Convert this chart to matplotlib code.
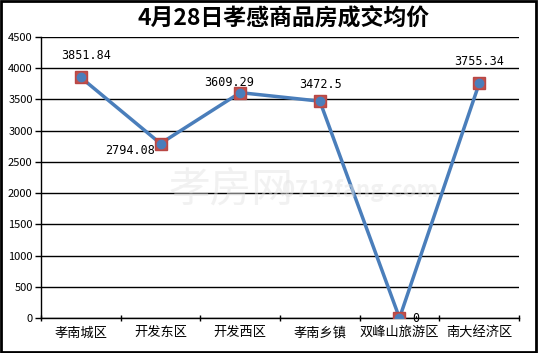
import matplotlib
matplotlib.use('Agg')
import matplotlib.pyplot as plt
from matplotlib.patches import Rectangle

plt.rcParams['font.family'] = ['Noto Sans CJK SC', 'DejaVu Sans']

# data
areas = ['孝南城区', '开发东区', '开发西区', '孝南乡镇', '双峰山旅游区', '南大经济区']
prices = [3851.84, 2794.08, 3609.29, 3472.5, 0, 3755.34]
price_text = ['3851.84', '2794.08', '3609.29', '3472.5', '0', '3755.34']
title = '4月28日孝感商品房成交均价'
yticks = [0, 500, 1000, 1500, 2000, 2500, 3000, 3500, 4000, 4500]

# offsets (points) for the value labels
offs = [(4, 16), (-22, -5), (-8, 7), (0.5, 12), (11.5, 0), (0, 16)]

fig = plt.figure(figsize=(5.38, 3.53), dpi=100)
ax = fig.add_axes([41/538, 1-318/353, (519-41)/538, (318-37)/353])

x = list(range(len(areas)))
ax.plot(x, prices, color='#4A7EBB', lw=2.5, zorder=3)
ax.plot(x, prices, ls='none', marker='s', ms=8, mfc='#C0504D', mec='#B94744', zorder=4)
ax.plot(x, prices, ls='none', marker='o', ms=6, mfc='#4A7EBB', mec='#4A7EBB', zorder=5)

for i in x:
    ax.annotate(price_text[i], (i, prices[i]), xytext=offs[i], textcoords='offset points',
                ha='center', va='center', fontsize=8.5, family='DejaVu Sans Mono', zorder=6)

ax.set_xlim(-0.5, len(areas)-0.5)
ax.set_ylim(0, 4500)
ax.set_yticks(yticks)
ax.set_yticklabels([str(v) for v in yticks], fontsize=8)
ax.set_xticks(x)
ax.set_xticklabels(areas, fontsize=9.5)
ax.set_xticks([i-0.5 for i in range(len(areas)+1)], minor=True)
ax.tick_params(axis='x', which='major', length=0, pad=6)
ax.tick_params(axis='x', which='minor', length=4, direction='inout', width=1)
ax.tick_params(axis='y', length=4, width=1, pad=2)
ax.grid(axis='y', color='black', lw=1)
for s in ['top', 'right']:
    ax.spines[s].set_visible(False)
ax.spines['left'].set_linewidth(1)
ax.spines['bottom'].set_linewidth(1)

# watermark
fig.text(0.43, 0.46, '孝房网', fontsize=30, color='#e4e4e4', alpha=0.5,
         ha='center', va='center', zorder=0)
fig.text(0.67, 0.46, '0712fang.com', fontsize=16, color='#e4e4e4', alpha=0.5,
         ha='center', va='center', weight='bold', zorder=0)

fig.text(284/538, 1-18/353, title, fontsize=16.5, weight='bold', ha='center', va='center')

fig.patches.append(Rectangle((0.002, 0.003), 0.995, 0.994, transform=fig.transFigure,
                             fill=False, ec='black', lw=2))

fig.savefig('out.png', dpi=100)
